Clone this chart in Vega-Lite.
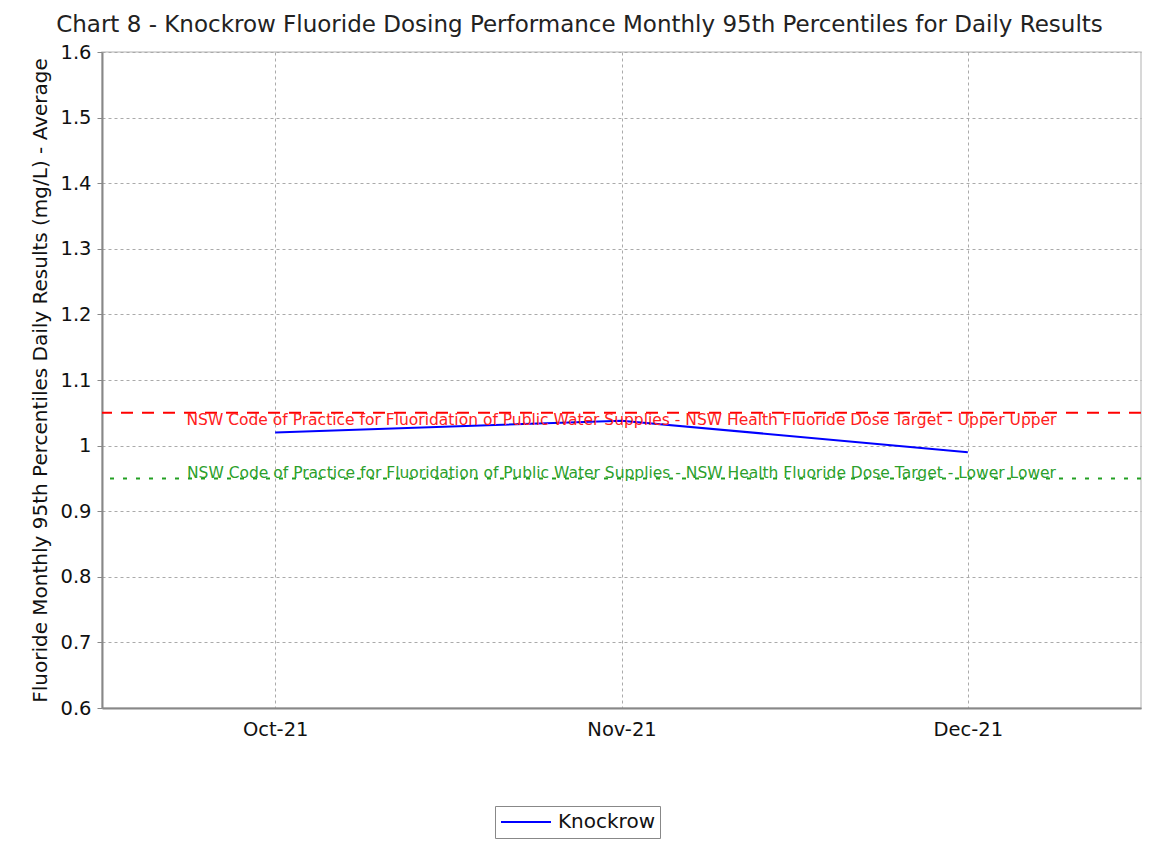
{
  "$schema": "https://vega.github.io/schema/vega-lite/v6.json",
  "width": 1039,
  "height": 656,
  "autosize": {"type": "none"},
  "padding": {"left": 102, "top": 52, "right": 15, "bottom": 138},
  "background": "white",
  "title": {
    "text": "Chart 8 - Knockrow Fluoride Dosing Performance Monthly 95th Percentiles for Daily Results",
    "font": "DejaVu Sans",
    "fontSize": 23,
    "fontWeight": "normal",
    "color": "#222222",
    "anchor": "middle",
    "offset": 5,
    "dx": -42
  },
  "config": {
    "font": "DejaVu Sans",
    "view": {"stroke": "#cccccc", "strokeWidth": 1.5},
    "axis": {
      "gridColor": "#aaaaaa",
      "gridDash": [3, 3],
      "gridWidth": 1,
      "domainColor": "#888888",
      "domainWidth": 2,
      "labelColor": "#111111",
      "titleColor": "#111111",
      "labelFont": "DejaVu Sans",
      "titleFont": "DejaVu Sans",
      "titleFontWeight": "normal"
    }
  },
  "datasets": {
    "series": [
      {"month": "Oct-21", "value": 1.02, "site": "Knockrow"},
      {"month": "Nov-21", "value": 1.038, "site": "Knockrow"},
      {"month": "Dec-21", "value": 0.99, "site": "Knockrow"}
    ],
    "limits": [
      {"kind": "Upper", "limit": 1.05, "label": "NSW Code of Practice for  Fluoridation of Public Water Supplies - NSW Health Fluoride Dose Target - Upper Upper"},
      {"kind": "Lower", "limit": 0.95, "label": "NSW Code of Practice for  Fluoridation of Public Water Supplies - NSW Health Fluoride Dose Target - Lower Lower"}
    ]
  },
  "layer": [
    {
      "data": {"name": "series"},
      "mark": {"type": "line", "strokeWidth": 2},
      "encoding": {
        "x": {
          "field": "month",
          "type": "ordinal",
          "sort": ["Oct-21", "Nov-21", "Dec-21"],
          "scale": {"type": "point", "padding": 0.5},
          "axis": {
            "title": null,
            "labelAngle": 0,
            "labelFontSize": 19.5,
            "labelPadding": 12,
            "ticks": false,
            "grid": true
          }
        },
        "y": {
          "field": "value",
          "type": "quantitative",
          "scale": {"domain": [0.6, 1.6], "nice": false, "zero": false},
          "axis": {
            "title": "Fluoride Monthly 95th Percentiles Daily Results (mg/L) - Average",
            "titleFontSize": 20,
            "titlePadding": 9,
            "labelFontSize": 19.5,
            "labelPadding": 6,
            "tickSize": 5,
            "tickColor": "#888888",
            "values": [0.6, 0.7, 0.8, 0.9, 1, 1.1, 1.2, 1.3, 1.4, 1.5, 1.6],
            "format": ".2~f",
            "grid": true
          }
        },
        "color": {
          "field": "site",
          "type": "nominal",
          "scale": {"range": ["#0000ff"]},
          "legend": {
            "title": null,
            "orient": "none",
            "legendX": 393,
            "legendY": 754,
            "symbolType": "stroke",
            "symbolSize": 2500,
            "symbolStrokeWidth": 2,
            "clipHeight": 22,
            "labelFontSize": 20,
            "labelColor": "#111111",
            "strokeColor": "#888888",
            "padding": 5,
            "labelOffset": 6
          }
        }
      }
    },
    {
      "data": {"name": "limits"},
      "transform": [{"filter": "datum.kind == 'Upper'"}],
      "mark": {"type": "rule", "color": "#ff0000", "strokeWidth": 2, "strokeDash": [12, 9]},
      "encoding": {"y": {"field": "limit", "type": "quantitative"}}
    },
    {
      "data": {"name": "limits"},
      "transform": [{"filter": "datum.kind == 'Lower'"}],
      "mark": {"type": "rule", "color": "#22a022", "strokeWidth": 2, "strokeDash": [4, 9]},
      "encoding": {"y": {"field": "limit", "type": "quantitative"}}
    },
    {
      "data": {"name": "limits"},
      "transform": [{"filter": "datum.kind == 'Upper'"}],
      "mark": {"type": "text", "color": "#ff2020", "fontSize": 15.5, "baseline": "middle", "align": "center", "dy": 7},
      "encoding": {
        "x": {"datum": "Nov-21", "type": "ordinal"},
        "y": {"field": "limit", "type": "quantitative"},
        "text": {"field": "label"}
      }
    },
    {
      "data": {"name": "limits"},
      "transform": [{"filter": "datum.kind == 'Lower'"}],
      "mark": {"type": "text", "color": "#2ca02c", "fontSize": 15.5, "baseline": "middle", "align": "center", "dy": -5},
      "encoding": {
        "x": {"datum": "Nov-21", "type": "ordinal"},
        "y": {"field": "limit", "type": "quantitative"},
        "text": {"field": "label"}
      }
    }
  ]
}
